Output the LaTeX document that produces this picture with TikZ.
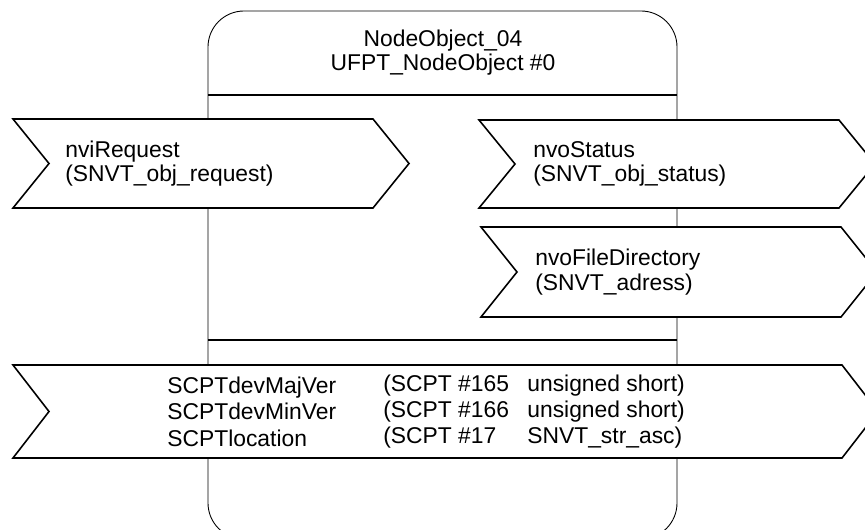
\documentclass[tikz,border=0pt]{standalone}
\usepackage{fontspec}
\setmainfont{Liberation Sans}

\tikzset{
  sig/.style={draw, fill=white, line width=0.9pt, line join=miter},
  lbl/.style={anchor=west, align=left, inner sep=0pt, font=\fontsize{13}{14}\selectfont},
  cplbl/.style={lbl, font=\fontsize{13}{15}\selectfont}
}

\begin{document}
\begin{tikzpicture}
\clip (0, 0) rectangle (17.3, -10.6);
% object frame
\draw[line width=0.5pt, rounded corners=0.72cm] (4.16, -0.22) rectangle (13.54, -10.78);
\node[lbl, anchor=center, align=center] (title) at (8.86, -1.05) {NodeObject\_04\\UFPT\_NodeObject \#0};
\draw[line width=0.9pt] (4.16, -1.9) -- (13.54, -1.9);
\draw[line width=0.9pt] (4.16, -6.8) -- (13.54, -6.8);
% inputs
\draw[sig] (0.26, -2.38) -- (7.46, -2.38) -- (8.18, -3.27) -- (7.46, -4.16) -- (0.26, -4.16) -- (0.98, -3.27) -- cycle;
\node[lbl] (req) at (1.3, -3.27) {nviRequest\\(SNVT\_obj\_request)};
% outputs
\draw[sig] (9.58, -2.4) -- (16.78, -2.4) -- (17.5, -3.28) -- (16.78, -4.16) -- (9.58, -4.16) -- (10.3, -3.28) -- cycle;
\node[lbl] (stat) at (10.66, -3.28) {nvoStatus\\(SNVT\_obj\_status)};
\draw[sig] (9.62, -4.54) -- (16.82, -4.54) -- (17.54, -5.44) -- (16.82, -6.34) -- (9.62, -6.34) -- (10.34, -5.44) -- cycle;
\node[lbl] (fdir) at (10.7, -5.44) {nvoFileDirectory\\(SNVT\_adress)};
% configuration properties
\draw[sig] (0.26, -7.3) -- (16.84, -7.3) -- (17.56, -8.23) -- (16.84, -9.16) -- (0.26, -9.16) -- (0.98, -8.23) -- cycle;
\node[cplbl] (cpname) at (3.34, -8.23) {SCPTdevMajVer\\SCPTdevMinVer\\SCPTlocation};
\node[cplbl] (cpnum) at (7.66, -8.23) {(SCPT \#165\\(SCPT \#166\\(SCPT \#17};
\node[cplbl] (cptype) at (10.54, -8.23) {unsigned short)\\unsigned short)\\SNVT\_str\_asc)};
\end{tikzpicture}
\end{document}
